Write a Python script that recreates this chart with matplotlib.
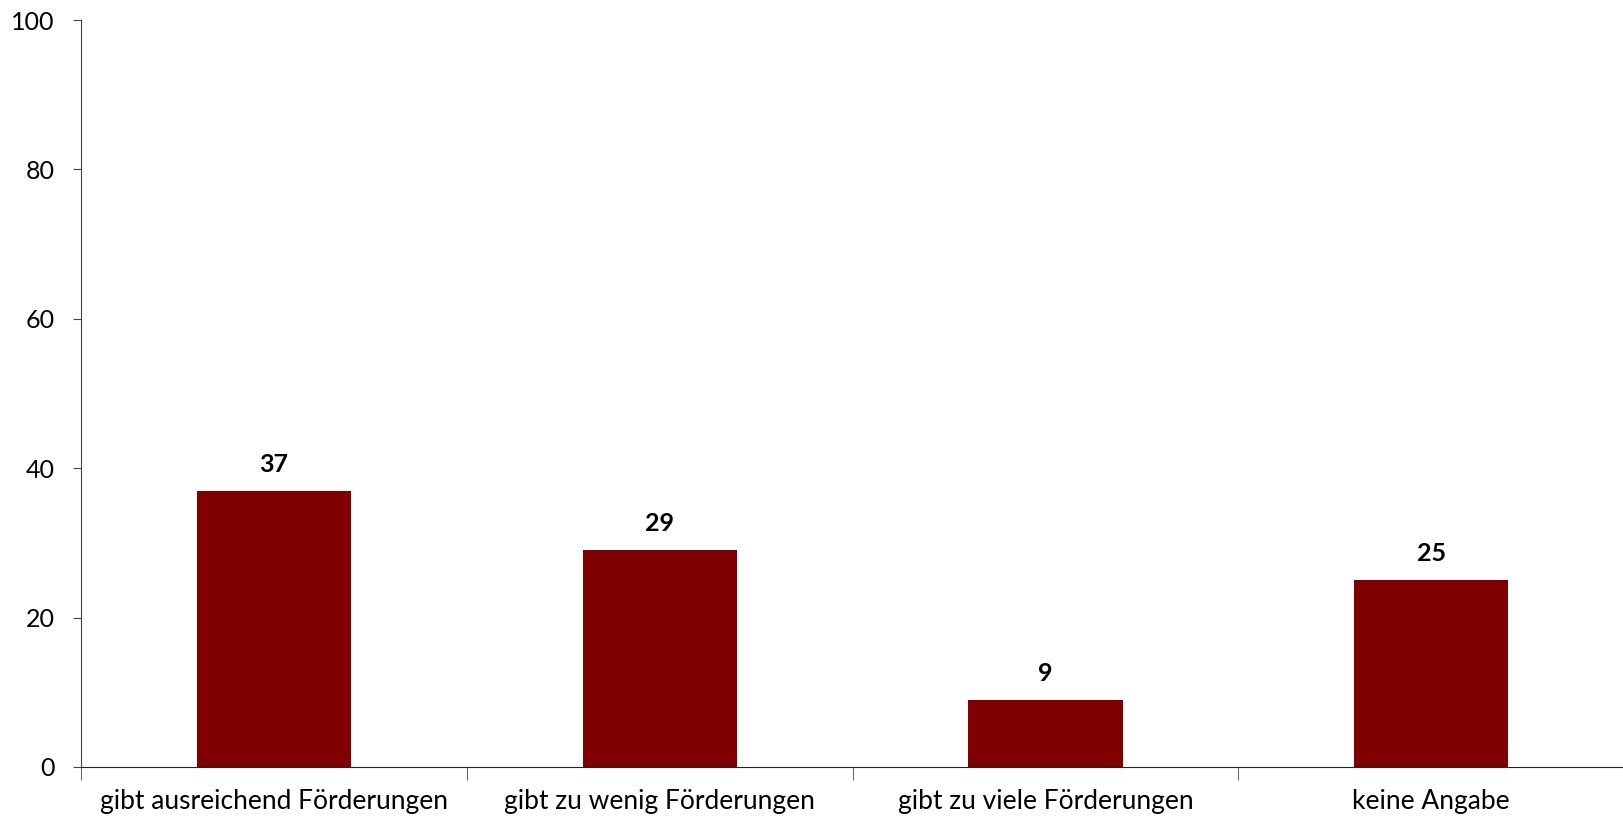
import matplotlib
matplotlib.use("Agg")
import matplotlib.pyplot as plt
import numpy as np

categories = ["gibt ausreichend Förderungen", "gibt zu wenig Förderungen",
              "gibt zu viele Förderungen", "keine Angabe"]
values = [37, 29, 9, 25]
y_ticks = [0, 20, 40, 60, 80, 100]

plt.rcParams['font.family'] = ['Lato', 'DejaVu Sans']

fig = plt.figure(figsize=(16.24, 8.19), dpi=100)
ax = fig.add_axes([0.0499, 0.0635, 0.9501, 0.912])

x = np.arange(len(categories))
bars = ax.bar(x, values, width=0.4, color="#800000")
for xi, v in zip(x, values):
    ax.text(xi, v + 2, str(v), ha="center", va="bottom", fontsize=18, fontweight="bold")

ax.set_xlim(-0.5, len(categories) - 0.5)
ax.set_ylim(0, 100)
ax.set_yticks(y_ticks)
ax.tick_params(axis="y", labelsize=18, length=6, direction="out", color="#444444", pad=13)

ax.set_xticks(x)
ax.set_xticklabels(categories, fontsize=19)
ax.tick_params(axis="x", length=0, pad=16)
ax.set_xticks(np.arange(len(categories) + 1) - 0.5, minor=True)
ax.tick_params(axis="x", which="minor", length=9, direction="out", color="#444444")

for s in ["top", "right"]:
    ax.spines[s].set_visible(False)
ax.spines["left"].set_color("#444444")
ax.spines["bottom"].set_color("#222222")

fig.savefig("out.png", dpi=100)
